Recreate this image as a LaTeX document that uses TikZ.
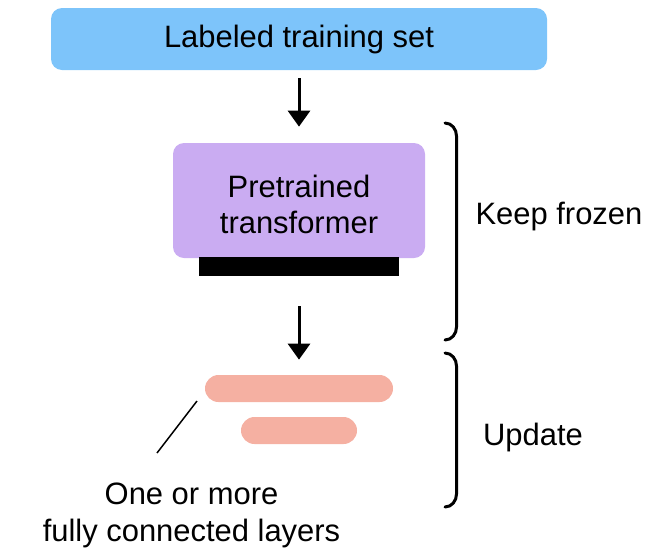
\documentclass[tikz,border=0pt]{standalone}
\usepackage{fontspec}
\setmainfont{Liberation Sans}
\usepackage{xcolor}
\usetikzlibrary{arrows.meta}

\definecolor{setblue}{RGB}{125,196,250}
\definecolor{tfpurple}{RGB}{202,172,242}
\definecolor{fcsalmon}{RGB}{245,176,162}

\begin{document}
\begin{tikzpicture}[
    every node/.style={font=\fontsize{17.6}{20}\selectfont},
    block/.style={rounded corners=0.22cm, inner sep=0pt, align=center},
    layer/.style={rounded corners=0.27cm, fill=fcsalmon, minimum height=0.54cm, inner sep=0pt},
    flow/.style={line width=0.06cm, -{Triangle[width=0.44cm,length=0.32cm]}},
    brace/.style={line width=0.06cm, line cap=round}
]
\useasboundingbox (0,0) rectangle (13.02,-11.02);

% Data and model
\node[block, fill=setblue, minimum width=9.92cm, minimum height=1.24cm] (train) at (5.98,-0.78) {Labeled training set};
\node[block, fill=tfpurple, minimum width=5.04cm, minimum height=2.3cm] (model) at (5.98,-4.01) {};
\node[align=center] (modeltext) at (5.98,-4.09) {Pretrained\\transformer};
\node[fill=black, minimum width=4cm, minimum height=0.38cm, inner sep=0pt] (base) at (5.98,-5.33) {};

% Trainable head
\node[layer, minimum width=3.76cm] (fc1) at (5.98,-7.77) {};
\node[layer, minimum width=2.32cm] (fc2) at (5.98,-8.61) {};

\draw[flow, shorten <=0.16cm, shorten >=0.32cm] (train.south) -- (train.south |- model.north);
\draw[flow, shorten <=0.6cm, shorten >=0.3cm] (base.south) -- (base.south |- fc1.north);

% Label for the layers
\node[align=center, font=\fontsize{17.6}{21}\selectfont] (fclabel) at (3.83,-10.3) {One or more\\fully connected layers};
\coordinate (tipa) at (3.94,-8.02);
\coordinate (tipb) at (3.14,-9.06);
\draw[line width=0.03cm] (tipa) -- (tipb);

% Brackets on the right
\draw[brace] (8.9,-2.46) to[out=0,in=90] (9.13,-2.72) -- (9.13,-6.54) to[out=-90,in=0] (8.9,-6.8);
\draw[brace] (8.9,-7.06) to[out=0,in=90] (9.13,-7.32) -- (9.13,-9.88) to[out=-90,in=0] (8.9,-10.14);

\node (frozen) at (11.18,-4.34) {Keep frozen};
\node (update) at (10.66,-8.74) {Update};

\end{tikzpicture}
\end{document}
